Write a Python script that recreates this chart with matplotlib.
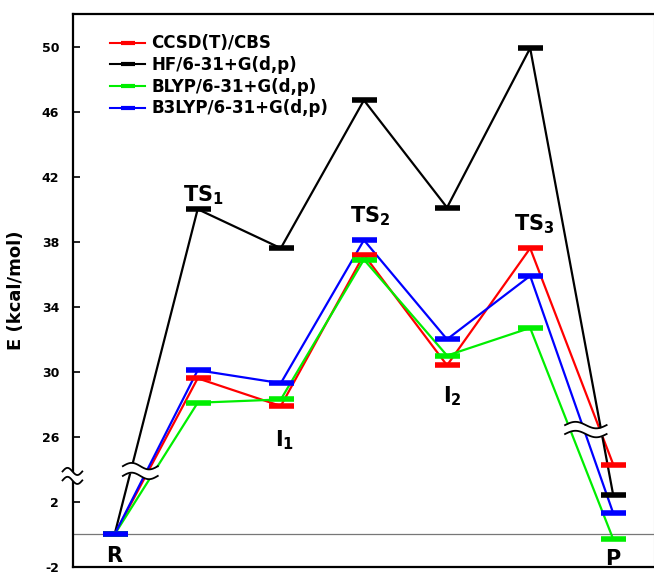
import numpy as np
import matplotlib
matplotlib.use("Agg")
import matplotlib.pyplot as plt
from matplotlib.lines import Line2D

plt.rcParams['font.family'] = ['DejaVu Sans']
plt.rcParams['font.weight'] = 'bold'
plt.rcParams['mathtext.fontset'] = 'dejavusans'

# reaction path points
states = ['R', 'TS1', 'I1', 'TS2', 'I2', 'TS3', 'P']
ccsd = [0.0, 29.6, 27.9, 37.2, 30.4, 37.6, 4.3]
hf = [0.0, 40.0, 37.6, 46.7, 40.1, 49.9, 2.4]
blyp = [0.0, 28.1, 28.3, 36.9, 31.0, 32.7, -0.3]
b3lyp = [0.0, 30.1, 29.3, 38.1, 32.0, 35.9, 1.3]
methods = ['CCSD(T)/CBS', 'HF/6-31+G(d,p)', 'BLYP/6-31+G(d,p)', 'B3LYP/6-31+G(d,p)']
colors = ['#ff0000', '#000000', '#00ee00', '#0000ff']
yticks = [-2, 2, 26, 30, 34, 38, 42, 46, 50]

# state labels: text, x, y (kcal/mol)
labels = [(r'$\mathbf{TS_1}$', 1.07, 40.5), (r'$\mathbf{TS_2}$', 3.08, 39.2),
          (r'$\mathbf{TS_3}$', 5.05, 38.7), (r'$\mathbf{I_1}$', 2.05, 25.4),
          (r'$\mathbf{I_2}$', 4.06, 28.1), ('R', 0.0, -1.7), ('P', 5.99, -1.85)]


# broken axis: 2..26 squeezed to 4 units
def fwd(v):
    v = np.asarray(v, float)
    return np.where(v <= 4.5, v, np.where(v >= 25, v - 20, 4.5 + (v - 4.5) * 0.5 / 20.5))


def inv(u):
    u = np.asarray(u, float)
    return np.where(u <= 4.5, u, np.where(u >= 5, u + 20, 4.5 + (u - 4.5) * 20.5 / 0.5))


fig = plt.figure(figsize=(6.54, 5.72), dpi=100)
ax = fig.add_axes([73 / 654, 5 / 572, 581 / 654, 553 / 572])
ax.set_yscale('function', functions=(fwd, inv))

x = np.arange(len(states))
ax.axhline(0, color='#777777', lw=0.9, zorder=1)
for vals, c, m in zip([ccsd, hf, blyp, b3lyp], colors, methods):
    ax.plot(x, vals, color=c, lw=1.6, zorder=2)
    ax.plot(x, vals, ls='none', marker='_', ms=18, mew=4, color=c, zorder=3)


def wave(x0, x1, yc, gap, amp, trans):
    t = np.linspace(0, 1, 60)
    xs = x0 + (x1 - x0) * t
    w = amp * np.sin(2 * np.pi * t)
    ax.fill_between(xs, yc - gap / 2 + w, yc + gap / 2 + w, color='white',
                    transform=trans, clip_on=False, zorder=6, lw=0)
    ax.plot(xs, yc + gap / 2 + w, color='black', lw=1.3, transform=trans, clip_on=False, zorder=7)
    ax.plot(xs, yc - gap / 2 + w, color='black', lw=1.3, transform=trans, clip_on=False, zorder=7)


wave(-0.018, 0.016, 3.6, 0.55, 0.22, ax.get_yaxis_transform())
wave(0.1, 0.52, 3.9, 0.6, 0.2, ax.transData)
wave(5.42, 5.92, 26.45, 0.55, 0.2, ax.transData)

for txt, lx, ly in labels:
    ax.text(lx, ly, txt, fontsize=15, fontweight='bold', ha='center', va='baseline', zorder=8)

ax.set_xlim(-0.5, 6.49)
ax.set_ylim(-2, 52)
ax.set_yticks(yticks)
ax.set_yticklabels([str(t) for t in yticks], fontsize=9, fontweight='bold')
ax.set_xticks([])
ax.tick_params(axis='y', direction='in', length=5, width=1.2, pad=10)
ax.set_ylabel('E (kcal/mol)', fontsize=13, fontweight='bold', labelpad=12)
for s in ['left', 'bottom', 'top']:
    ax.spines[s].set_linewidth(1.6)
ax.spines['right'].set_color('#aaaaaa')
ax.spines['right'].set_linewidth(0.8)

handles = [Line2D([], [], color=c, lw=1.5, marker='_', ms=10, mew=3) for c in colors]
ax.legend(handles, methods, loc='upper left', bbox_to_anchor=(0.053, 0.975), frameon=False,
          prop={'weight': 'bold', 'size': 12},
          handlelength=2.1, handletextpad=0.35, labelspacing=0.22, borderaxespad=0)

fig.savefig('out.png', dpi=100)
